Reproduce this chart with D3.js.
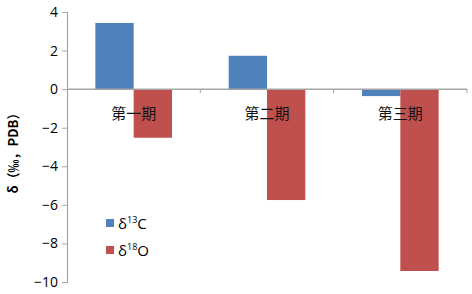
<!DOCTYPE html>
<html><head><meta charset="utf-8">
<script src="https://cdn.jsdelivr.net/npm/d3@7"></script>
<style>body{margin:0;background:#fff}</style>
</head><body>
<div id="chart"></div>
<script>
// chart values
const categories = ["第一期", "第二期", "第三期"];
const seriesNames = ["C13", "O18"];
const d13C = [3.43, 1.73, -0.36];
const d18O = [-2.52, -5.75, -9.43];
const yTicks = [4, 2, 0, -2, -4, -6, -8, -10];

const width = 472, height = 294;
const colors = { C13: "#4F81BD", O18: "#C0504D" };

const svg = d3.select("#chart").append("svg")
  .attr("width", width).attr("height", height);

const y = d3.scaleLinear().domain([-10, 4]).range([282, 12]);
const x = d3.scaleBand().domain(categories).range([67, 467]);
const xs = d3.scaleBand().domain(seriesNames).range([0, x.bandwidth()]).paddingInner(0).paddingOuter(0.74);

const rows = categories.map((c, i) => ({ cat: c, C13: d13C[i], O18: d18O[i] }));

// bars
svg.append("g").selectAll("g")
  .data(rows).join("g")
  .attr("transform", d => `translate(${x(d.cat)},0)`)
  .selectAll("rect")
  .data(d => seriesNames.map(k => ({ key: k, v: d[k] })))
  .join("rect")
  .attr("x", d => xs(d.key))
  .attr("width", xs.bandwidth())
  .attr("y", d => y(Math.max(0, d.v)))
  .attr("height", d => Math.abs(y(d.v) - y(0)))
  .attr("fill", d => colors[d.key]);

// y axis
const yAxis = svg.append("g").attr("transform", "translate(67,0)")
  .call(d3.axisLeft(y).tickValues(yTicks).tickSize(5).tickPadding(4));
yAxis.select(".domain").attr("stroke", "#a6a6a6").attr("stroke-width", 1.2);
yAxis.selectAll(".tick line").attr("stroke", "#a6a6a6");
yAxis.selectAll("text").attr("font-family", "Open Sans, sans-serif").attr("font-size", 14).attr("fill", "#000");

// x axis at zero
const xAxis = svg.append("g").attr("transform", `translate(0,${y(0)})`);
xAxis.append("line").attr("x1", 67).attr("x2", 467).attr("stroke", "#a6a6a6").attr("stroke-width", 1.5);
xAxis.selectAll(".xt").data(categories).join("line")
  .attr("x1", d => x(d) + x.bandwidth()).attr("x2", d => x(d) + x.bandwidth())
  .attr("y1", 0).attr("y2", 4).attr("stroke", "#a6a6a6");
xAxis.selectAll("text").data(categories).join("text")
  .attr("x", d => x(d) + x.bandwidth() / 2)
  .attr("y", 30)
  .attr("text-anchor", "middle")
  .attr("font-family", "Noto Sans CJK SC")
  .attr("font-size", 15)
  .attr("fill", "#111")
  .text(d => d);

// y title
svg.append("text")
  .attr("transform", "translate(18,150) rotate(-90)")
  .attr("text-anchor", "middle")
  .attr("font-family", "Noto Sans CJK SC")
  .attr("font-size", 13)
  .attr("font-weight", "bold")
  .text("δ（‰，PDB）");

// legend
const legend = svg.append("g");
const legendItems = [
  { key: "C13", sup: "13", el: "C" },
  { key: "O18", sup: "18", el: "O" }
];
legendItems.forEach((d, i) => {
  const ly = 223 + i * 27;
  legend.append("rect").attr("x", 106).attr("y", ly - 4).attr("width", 8).attr("height", 8).attr("fill", colors[d.key]);
  const t = legend.append("text").attr("x", 118).attr("y", ly + 6)
    .attr("font-family", "Open Sans, sans-serif").attr("font-size", 15);
  t.append("tspan").text("δ");
  t.append("tspan").attr("font-size", 9).attr("dy", -6).text(d.sup);
  t.append("tspan").attr("dy", 6).text(d.el);
});
</script>
</body></html>
